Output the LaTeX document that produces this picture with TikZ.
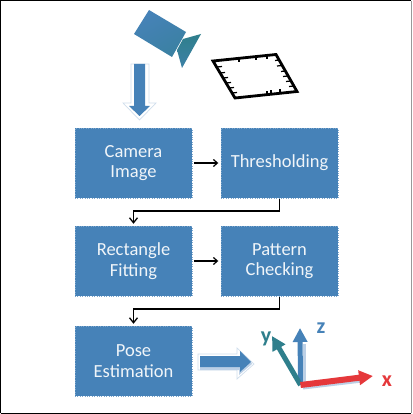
\documentclass[tikz,border=0pt]{standalone}
\usepackage{fontspec}
\setmainfont{Carlito}
\usetikzlibrary{arrows.meta}
\definecolor{boxblue}{HTML}{4682B8}
\definecolor{tealc}{HTML}{2F7F8C}
\definecolor{redc}{HTML}{E5383B}
\definecolor{paleb}{HTML}{BCD0E6}
\tikzset{
  stagebox/.style={draw=boxblue!70!white,dotted,line width=0.4pt,fill=boxblue,text=white!92!boxblue,minimum width=117pt,minimum height=70pt,inner sep=0pt,align=center,font=\fontsize{18.5}{20.5}\selectfont},
  flowline/.style={draw=black,line width=1.6pt,-{Straight Barb[length=5pt,width=8pt,line width=1.3pt]}},
  stepline/.style={draw=black,line width=1.1pt,-{Straight Barb[length=4pt,width=7pt,line width=1.2pt]}},
  axisarrow/.style={-{Triangle[length=14pt,width=14pt]},line width=5pt},
  axislabel/.style={font=\fontsize{22}{22}\selectfont\bfseries,inner sep=0pt},
  hollow/.style={draw=paleb!70!white,line width=0.7pt,fill=white,line join=miter},
}
\begin{document}
\begin{tikzpicture}[x=1pt,y=-1pt]
\useasboundingbox (0,0) rectangle (412,414);
\fill[white] (0,0) rectangle (412,414);
\draw[black,line width=1.2pt] (0.6,413.4) -- (0.6,0.6) -- (411.4,0.6);
\draw[black,line width=1.2pt] (0.6,413.4) -- (411.4,413.4);
\draw[black!40,line width=0.7pt] (411.6,0.6) -- (411.6,413.4);

% camera
\shade[left color=boxblue,right color=boxblue!50!tealc,shading angle=30] (149,10) -- (186,32) -- (172,57) -- (134,34) -- cycle;
\shade[left color=tealc,right color=boxblue!60!tealc,shading angle=0] (201,34) -- (182,68) -- (177,50) -- (183,39) -- cycle;

% marker pattern
\draw[black,line width=2.8pt,line join=miter] (213,61) -- (276,54.5) -- (297,91.5) -- (235,98) -- cycle;
\foreach \a/\b/\c/\d in {
  239/58.5/239/62, 256/57/256/60.5, 267/56/267/59.5,
  279/60/275/60.5, 282/65.5/277/66, 285/71/281/71.5, 288/76/283/76.5, 291/81/286/81.5, 294/86/289/86.5,
  267/94.5/267/91, 271/94/271/90.5, 280/93/280/89.5,
  217/67/222/66.5, 220/73/225/72.5, 223/78/228/77.5, 226/83/231/82.5, 229/88/234/87.5, 232/93/237/92.5}{
  \draw[black,line width=1.2pt] (\a,\b) -- (\c,\d);
}

% down arrow
\draw[hollow] (131,64) -- (149,64) -- (149,103) -- (156,103) -- (139.5,120) -- (123,103) -- (131,103) -- cycle;
\fill[boxblue] (134,64) -- (145,64) -- (145,106) -- (150,106) -- (139.5,116) -- (129,106) -- (134,106) -- cycle;

% stages
\node[stagebox] (camera) at (133.5,163) {Camera\\Image};
\node[stagebox] (thresh) at (279.5,163) {Thresholding};
\node[stagebox] (rect) at (133.5,261) {Rectangle\\Fitting};
\node[stagebox] (pattern) at (279.5,261) {Pattern\\Checking};
\node[stagebox] (pose) at (133.5,361) {Pose\\Estimation};

% connectors
\draw[stepline,shorten <=2pt,shorten >=2.5pt] (camera.east) -- (thresh.west);
\draw[stepline,shorten <=2pt,shorten >=2.5pt] (rect.east) -- (pattern.west);
\draw[flowline,shorten <=1pt,shorten >=2pt] (thresh.south) -- ++(0,13) -| (rect.north);
\draw[flowline,shorten <=1pt,shorten >=2pt] (pattern.south) -- ++(0,13) -| (pose.north);

% right arrow
\draw[hollow] (198,354) -- (237,354) -- (237,348) -- (254,364) -- (237,379) -- (237,370) -- (198,370) -- cycle;
\fill[paleb] (200,367) -- (240,367) -- (240,372) -- (251,362) -- (252,364) -- (239,375) -- (239,370) -- (200,370) -- cycle;
\fill[boxblue] (200,356) -- (240,356) -- (240,351) -- (251,362) -- (240,372) -- (240,367) -- (200,367) -- cycle;

% axes
\coordinate (origin) at (300.5,385);
\coordinate (ztip) at (300,328);
\coordinate (ytip) at (272,336);
\coordinate (xtip) at (373,376);
\draw[paleb,line width=3pt] (304,344) -- (304,385);
\draw[axisarrow,boxblue] (origin) -- (ztip);
\draw[axisarrow,tealc] (origin) -- (ytip);
\draw[paleb,line width=3pt] (303,388) -- (362,381);
\draw[axisarrow,redc,line width=6pt] (origin) -- (xtip);
\node[axislabel,text=redc] (xlab) at (387,381) {x};
\node[axislabel,text=tealc] (ylab) at (266,339) {y};
\node[axislabel,text=boxblue] (zlab) at (321,328) {z};
\end{tikzpicture}
\end{document}
